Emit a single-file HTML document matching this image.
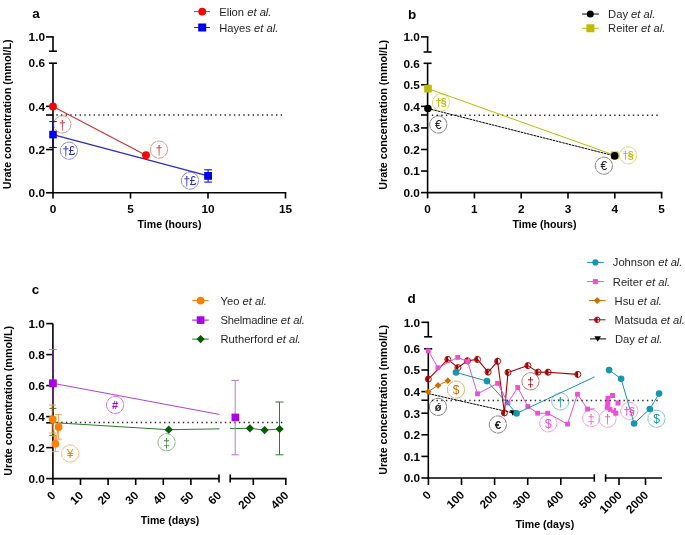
<!DOCTYPE html>
<html><head><meta charset="utf-8"><style>
html,body{margin:0;padding:0;background:#fff;}
body{width:685px;height:535px;overflow:hidden;}
svg{display:block;font-family:"Liberation Sans", sans-serif;filter:blur(0.3px);}
</style></head><body>
<svg width="685" height="535" viewBox="0 0 685 535">
<rect width="685" height="535" fill="#fff"/>
<text x="36.00" y="17.50" font-size="13.5" font-weight="bold" text-anchor="middle" fill="#000" >a</text>
<line x1="53.00" y1="36.90" x2="53.00" y2="51.20" stroke="#000" stroke-width="1.6" />
<line x1="46.00" y1="36.90" x2="53.80" y2="36.90" stroke="#000" stroke-width="1.6" />
<line x1="49.00" y1="51.20" x2="57.00" y2="51.20" stroke="#000" stroke-width="1.6" />
<line x1="49.00" y1="63.20" x2="57.00" y2="63.20" stroke="#000" stroke-width="1.6" />
<line x1="53.00" y1="63.20" x2="53.00" y2="192.75" stroke="#000" stroke-width="1.6" />
<line x1="46.00" y1="106.35" x2="53.00" y2="106.35" stroke="#000" stroke-width="1.6" />
<line x1="46.00" y1="149.55" x2="53.00" y2="149.55" stroke="#000" stroke-width="1.6" />
<line x1="46.00" y1="192.75" x2="53.00" y2="192.75" stroke="#000" stroke-width="1.6" />
<line x1="46.00" y1="114.99" x2="53.00" y2="114.99" stroke="#000" stroke-width="1.6" />
<text x="45.00" y="41.20" font-size="11.8" font-weight="bold" text-anchor="end" fill="#000" >1.0</text>
<text x="45.00" y="67.45" font-size="11.8" font-weight="bold" text-anchor="end" fill="#000" >0.6</text>
<text x="45.00" y="110.65" font-size="11.8" font-weight="bold" text-anchor="end" fill="#000" >0.4</text>
<text x="45.00" y="153.85" font-size="11.8" font-weight="bold" text-anchor="end" fill="#000" >0.2</text>
<text x="45.00" y="197.05" font-size="11.8" font-weight="bold" text-anchor="end" fill="#000" >0.0</text>
<line x1="52.20" y1="192.75" x2="286.30" y2="192.75" stroke="#000" stroke-width="1.6" />
<line x1="53.00" y1="192.75" x2="53.00" y2="198.50" stroke="#000" stroke-width="1.6" />
<text x="53.00" y="212.90" font-size="11.8" font-weight="bold" text-anchor="middle" fill="#000" >0</text>
<line x1="130.50" y1="192.75" x2="130.50" y2="198.50" stroke="#000" stroke-width="1.6" />
<text x="130.50" y="212.90" font-size="11.8" font-weight="bold" text-anchor="middle" fill="#000" >5</text>
<line x1="208.00" y1="192.75" x2="208.00" y2="198.50" stroke="#000" stroke-width="1.6" />
<text x="208.00" y="212.90" font-size="11.8" font-weight="bold" text-anchor="middle" fill="#000" >10</text>
<line x1="285.50" y1="192.75" x2="285.50" y2="198.50" stroke="#000" stroke-width="1.6" />
<text x="285.50" y="212.90" font-size="11.8" font-weight="bold" text-anchor="middle" fill="#000" >15</text>
<text x="169.50" y="227.80" font-size="10.6" font-weight="bold" text-anchor="middle" fill="#000" >Time (hours)</text>
<text transform="translate(11.20,114.40) rotate(-90)" x="0" y="0" font-size="10.75" font-weight="bold" text-anchor="middle" fill="#000">Urate concentration (mmol/L)</text>
<line x1="56.25" y1="114.95" x2="282.15" y2="114.95" stroke="#2a2a2a" stroke-width="1.5" stroke-dasharray="1.4,3.275"/>
<polyline points="53.00,106.40 146.00,155.20" fill="none" stroke="#cc3030" stroke-width="1.1" stroke-linejoin="round" />
<polyline points="53.00,134.60 208.10,175.90" fill="none" stroke="#2a2ac4" stroke-width="1.1" stroke-linejoin="round" />
<line x1="53.00" y1="121.60" x2="53.00" y2="147.50" stroke="#10107a" stroke-width="1.6" />
<line x1="49.25" y1="121.60" x2="56.75" y2="121.60" stroke="#0000f0" stroke-width="1.0" />
<line x1="49.25" y1="147.50" x2="56.75" y2="147.50" stroke="#0000f0" stroke-width="1.0" />
<line x1="208.10" y1="169.80" x2="208.10" y2="182.10" stroke="#0000f0" stroke-width="1.0" />
<line x1="204.10" y1="169.80" x2="212.10" y2="169.80" stroke="#0000f0" stroke-width="1.0" />
<line x1="204.10" y1="182.10" x2="212.10" y2="182.10" stroke="#0000f0" stroke-width="1.0" />
<rect x="49.20" y="130.80" width="7.6" height="7.6" fill="#0000f0"/>
<rect x="204.20" y="172.00" width="7.8" height="7.8" fill="#0000f0"/>
<circle cx="53.00" cy="106.40" r="3.9" fill="#ff0000"/>
<circle cx="146.00" cy="155.20" r="3.9" fill="#ff0000"/>
<circle cx="62.30" cy="124.40" r="8.6" fill="none" stroke="#cc3030" stroke-width="0.9" stroke-dasharray="7,0.6" opacity="0.62"/>
<text x="62.30" y="128.70" font-size="12" font-weight="normal" text-anchor="middle" fill="#cc3030" >†</text>
<circle cx="159.00" cy="149.60" r="8.6" fill="none" stroke="#cc3030" stroke-width="0.9" stroke-dasharray="7,0.6" opacity="0.62"/>
<text x="159.00" y="153.90" font-size="12" font-weight="normal" text-anchor="middle" fill="#cc3030" >†</text>
<circle cx="68.90" cy="150.70" r="8.6" fill="none" stroke="#2a2ac4" stroke-width="0.9" stroke-dasharray="7,0.6" opacity="0.62"/>
<text x="68.60" y="155.00" font-size="12" font-weight="normal" text-anchor="middle" fill="#2a2ac4"  letter-spacing="-0.6">†£</text>
<circle cx="190.00" cy="180.60" r="8.6" fill="none" stroke="#2a2ac4" stroke-width="0.9" stroke-dasharray="7,0.6" opacity="0.62"/>
<text x="189.70" y="184.90" font-size="12" font-weight="normal" text-anchor="middle" fill="#2a2ac4"  letter-spacing="-0.6">†£</text>
<line x1="194.00" y1="11.60" x2="210.00" y2="11.60" stroke="#cc3030" stroke-width="1.0" />
<circle cx="202.20" cy="11.60" r="3.9" fill="#ff0000"/>
<text x="219.20" y="15.70" font-size="11.2" fill="#262626">Elion <tspan font-style="italic">et al.</tspan></text>
<line x1="194.00" y1="27.50" x2="210.00" y2="27.50" stroke="#2a2ac4" stroke-width="1.0" />
<rect x="198.20" y="23.50" width="8" height="8" fill="#0000f0"/>
<text x="219.20" y="31.80" font-size="11.2" fill="#262626">Hayes <tspan font-style="italic">et al.</tspan></text>
<text x="412.00" y="18.90" font-size="13.5" font-weight="bold" text-anchor="middle" fill="#000" >b</text>
<line x1="427.60" y1="36.90" x2="427.60" y2="52.00" stroke="#000" stroke-width="1.6" />
<line x1="421.00" y1="36.90" x2="428.40" y2="36.90" stroke="#000" stroke-width="1.6" />
<line x1="423.60" y1="52.00" x2="431.60" y2="52.00" stroke="#000" stroke-width="1.6" />
<line x1="423.60" y1="63.30" x2="431.60" y2="63.30" stroke="#000" stroke-width="1.6" />
<line x1="427.60" y1="63.30" x2="427.60" y2="192.60" stroke="#000" stroke-width="1.6" />
<line x1="421.00" y1="84.80" x2="427.60" y2="84.80" stroke="#000" stroke-width="1.6" />
<line x1="421.00" y1="106.36" x2="427.60" y2="106.36" stroke="#000" stroke-width="1.6" />
<line x1="421.00" y1="114.98" x2="427.60" y2="114.98" stroke="#000" stroke-width="1.6" />
<line x1="421.00" y1="127.92" x2="427.60" y2="127.92" stroke="#000" stroke-width="1.6" />
<line x1="421.00" y1="149.48" x2="427.60" y2="149.48" stroke="#000" stroke-width="1.6" />
<line x1="421.00" y1="171.04" x2="427.60" y2="171.04" stroke="#000" stroke-width="1.6" />
<line x1="421.00" y1="192.60" x2="427.60" y2="192.60" stroke="#000" stroke-width="1.6" />
<text x="419.90" y="41.20" font-size="11.8" font-weight="bold" text-anchor="end" fill="#000" >1.0</text>
<text x="419.90" y="67.54" font-size="11.8" font-weight="bold" text-anchor="end" fill="#000" >0.6</text>
<text x="419.90" y="89.10" font-size="11.8" font-weight="bold" text-anchor="end" fill="#000" >0.5</text>
<text x="419.90" y="110.66" font-size="11.8" font-weight="bold" text-anchor="end" fill="#000" >0.4</text>
<text x="419.90" y="132.22" font-size="11.8" font-weight="bold" text-anchor="end" fill="#000" >0.3</text>
<text x="419.90" y="153.78" font-size="11.8" font-weight="bold" text-anchor="end" fill="#000" >0.2</text>
<text x="419.90" y="175.34" font-size="11.8" font-weight="bold" text-anchor="end" fill="#000" >0.1</text>
<text x="419.90" y="196.90" font-size="11.8" font-weight="bold" text-anchor="end" fill="#000" >0.0</text>
<line x1="426.80" y1="192.60" x2="662.40" y2="192.60" stroke="#000" stroke-width="1.6" />
<line x1="427.60" y1="192.60" x2="427.60" y2="198.40" stroke="#000" stroke-width="1.6" />
<text x="427.60" y="212.90" font-size="11.8" font-weight="bold" text-anchor="middle" fill="#000" >0</text>
<line x1="474.40" y1="192.60" x2="474.40" y2="198.40" stroke="#000" stroke-width="1.6" />
<text x="474.40" y="212.90" font-size="11.8" font-weight="bold" text-anchor="middle" fill="#000" >1</text>
<line x1="521.20" y1="192.60" x2="521.20" y2="198.40" stroke="#000" stroke-width="1.6" />
<text x="521.20" y="212.90" font-size="11.8" font-weight="bold" text-anchor="middle" fill="#000" >2</text>
<line x1="568.00" y1="192.60" x2="568.00" y2="198.40" stroke="#000" stroke-width="1.6" />
<text x="568.00" y="212.90" font-size="11.8" font-weight="bold" text-anchor="middle" fill="#000" >3</text>
<line x1="614.80" y1="192.60" x2="614.80" y2="198.40" stroke="#000" stroke-width="1.6" />
<text x="614.80" y="212.90" font-size="11.8" font-weight="bold" text-anchor="middle" fill="#000" >4</text>
<line x1="661.60" y1="192.60" x2="661.60" y2="198.40" stroke="#000" stroke-width="1.6" />
<text x="661.60" y="212.90" font-size="11.8" font-weight="bold" text-anchor="middle" fill="#000" >5</text>
<text x="544.50" y="228.40" font-size="10.6" font-weight="bold" text-anchor="middle" fill="#000" >Time (hours)</text>
<text transform="translate(386.90,114.80) rotate(-90)" x="0" y="0" font-size="10.75" font-weight="bold" text-anchor="middle" fill="#000">Urate concentration (mmol/L)</text>
<line x1="431.85" y1="115.20" x2="657.75" y2="115.20" stroke="#2a2a2a" stroke-width="1.5" stroke-dasharray="1.4,3.275"/>
<polyline points="427.90,108.50 614.70,155.90" fill="none" stroke="#000" stroke-width="1.0" stroke-linejoin="round" stroke-dasharray="2.6,0.7"/>
<polyline points="428.00,88.60 614.70,155.30" fill="none" stroke="#bcbc00" stroke-width="1.0" stroke-linejoin="round" />
<rect x="424.15" y="84.75" width="7.7" height="7.7" fill="#bcbc00"/>
<rect x="610.85" y="151.45" width="7.7" height="7.7" fill="#bcbc00"/>
<circle cx="427.90" cy="108.50" r="3.8" fill="#000"/>
<circle cx="614.70" cy="155.90" r="3.8" fill="#000"/>
<circle cx="441.00" cy="102.50" r="8.6" fill="none" stroke="#bcbc00" stroke-width="0.9" stroke-dasharray="7,0.6" opacity="0.62"/>
<text x="440.70" y="106.10" font-size="10.6" font-weight="bold" text-anchor="middle" fill="#bcbc00"  letter-spacing="-0.6">†§</text>
<circle cx="628.10" cy="155.40" r="8.6" fill="none" stroke="#bcbc00" stroke-width="0.9" stroke-dasharray="7,0.6" opacity="0.62"/>
<text x="627.80" y="159.00" font-size="10.6" font-weight="bold" text-anchor="middle" fill="#bcbc00"  letter-spacing="-0.6">†§</text>
<circle cx="438.30" cy="124.50" r="8.6" fill="none" stroke="#222" stroke-width="0.9" stroke-dasharray="7,0.6" opacity="0.62"/>
<text x="438.30" y="128.80" font-size="12" font-weight="normal" text-anchor="middle" fill="#222" >€</text>
<circle cx="603.90" cy="165.70" r="8.6" fill="none" stroke="#222" stroke-width="0.9" stroke-dasharray="7,0.6" opacity="0.62"/>
<text x="603.90" y="170.00" font-size="12" font-weight="normal" text-anchor="middle" fill="#222" >€</text>
<line x1="582.10" y1="14.05" x2="598.80" y2="14.05" stroke="#000" stroke-width="1.0" />
<circle cx="590.30" cy="14.05" r="3.5" fill="#000"/>
<text x="608.10" y="17.95" font-size="11.2" fill="#262626">Day <tspan font-style="italic">et al.</tspan></text>
<line x1="582.10" y1="28.25" x2="598.80" y2="28.25" stroke="#bcbc00" stroke-width="1.0" />
<rect x="586.40" y="24.25" width="8" height="8" fill="#bcbc00"/>
<text x="608.10" y="31.85" font-size="11.2" fill="#262626">Reiter <tspan font-style="italic">et al.</tspan></text>
<text x="35.60" y="293.70" font-size="13.5" font-weight="bold" text-anchor="middle" fill="#000" >c</text>
<line x1="52.90" y1="323.60" x2="52.90" y2="478.60" stroke="#000" stroke-width="1.6" />
<line x1="46.20" y1="323.60" x2="52.90" y2="323.60" stroke="#000" stroke-width="1.6" />
<line x1="46.20" y1="354.60" x2="52.90" y2="354.60" stroke="#000" stroke-width="1.6" />
<line x1="46.20" y1="385.60" x2="52.90" y2="385.60" stroke="#000" stroke-width="1.6" />
<line x1="46.20" y1="416.60" x2="52.90" y2="416.60" stroke="#000" stroke-width="1.6" />
<line x1="46.20" y1="422.80" x2="52.90" y2="422.80" stroke="#000" stroke-width="1.6" />
<line x1="46.20" y1="447.60" x2="52.90" y2="447.60" stroke="#000" stroke-width="1.6" />
<line x1="46.20" y1="478.60" x2="52.90" y2="478.60" stroke="#000" stroke-width="1.6" />
<text x="44.90" y="327.90" font-size="11.8" font-weight="bold" text-anchor="end" fill="#000" >1.0</text>
<text x="44.90" y="358.90" font-size="11.8" font-weight="bold" text-anchor="end" fill="#000" >0.8</text>
<text x="44.90" y="389.90" font-size="11.8" font-weight="bold" text-anchor="end" fill="#000" >0.6</text>
<text x="44.90" y="420.90" font-size="11.8" font-weight="bold" text-anchor="end" fill="#000" >0.4</text>
<text x="44.90" y="451.90" font-size="11.8" font-weight="bold" text-anchor="end" fill="#000" >0.2</text>
<text x="44.90" y="482.90" font-size="11.8" font-weight="bold" text-anchor="end" fill="#000" >0.0</text>
<line x1="52.10" y1="478.60" x2="219.00" y2="478.60" stroke="#000" stroke-width="1.6" />
<line x1="219.00" y1="474.60" x2="219.00" y2="482.40" stroke="#000" stroke-width="1.6" />
<line x1="230.20" y1="478.60" x2="286.60" y2="478.60" stroke="#000" stroke-width="1.6" />
<line x1="230.20" y1="474.60" x2="230.20" y2="482.40" stroke="#000" stroke-width="1.6" />
<line x1="52.90" y1="478.60" x2="52.90" y2="485.00" stroke="#000" stroke-width="1.6" />
<line x1="80.50" y1="478.60" x2="80.50" y2="485.00" stroke="#000" stroke-width="1.6" />
<line x1="108.10" y1="478.60" x2="108.10" y2="485.00" stroke="#000" stroke-width="1.6" />
<line x1="135.70" y1="478.60" x2="135.70" y2="485.00" stroke="#000" stroke-width="1.6" />
<line x1="163.30" y1="478.60" x2="163.30" y2="485.00" stroke="#000" stroke-width="1.6" />
<line x1="190.90" y1="478.60" x2="190.90" y2="485.00" stroke="#000" stroke-width="1.6" />
<line x1="253.30" y1="478.60" x2="253.30" y2="485.00" stroke="#000" stroke-width="1.6" />
<line x1="285.80" y1="478.60" x2="285.80" y2="485.00" stroke="#000" stroke-width="1.6" />
<text transform="translate(56.40,496.10) rotate(-45)" x="0" y="0" font-size="11.6" font-weight="bold" text-anchor="end" fill="#000">0</text>
<text transform="translate(84.00,496.10) rotate(-45)" x="0" y="0" font-size="11.6" font-weight="bold" text-anchor="end" fill="#000">10</text>
<text transform="translate(111.60,496.10) rotate(-45)" x="0" y="0" font-size="11.6" font-weight="bold" text-anchor="end" fill="#000">20</text>
<text transform="translate(139.20,496.10) rotate(-45)" x="0" y="0" font-size="11.6" font-weight="bold" text-anchor="end" fill="#000">30</text>
<text transform="translate(166.80,496.10) rotate(-45)" x="0" y="0" font-size="11.6" font-weight="bold" text-anchor="end" fill="#000">40</text>
<text transform="translate(194.40,496.10) rotate(-45)" x="0" y="0" font-size="11.6" font-weight="bold" text-anchor="end" fill="#000">50</text>
<text transform="translate(222.00,496.10) rotate(-45)" x="0" y="0" font-size="11.6" font-weight="bold" text-anchor="end" fill="#000">60</text>
<text transform="translate(256.80,496.10) rotate(-45)" x="0" y="0" font-size="11.6" font-weight="bold" text-anchor="end" fill="#000">200</text>
<text transform="translate(289.30,496.10) rotate(-45)" x="0" y="0" font-size="11.6" font-weight="bold" text-anchor="end" fill="#000">400</text>
<text x="170.00" y="524.00" font-size="10.6" font-weight="bold" text-anchor="middle" fill="#000" >Time (days)</text>
<text transform="translate(11.70,400.80) rotate(-90)" x="0" y="0" font-size="10.75" font-weight="bold" text-anchor="middle" fill="#000">Urate concentration (mmol/L)</text>
<line x1="56.55" y1="422.60" x2="282.45" y2="422.60" stroke="#2a2a2a" stroke-width="1.5" stroke-dasharray="1.4,3.275"/>
<clipPath id="c1"><rect x="0" y="300" width="219.5" height="200"/></clipPath>
<clipPath id="c2"><rect x="230" y="300" width="100" height="200"/></clipPath>
<polyline points="52.90,383.30 235.30,417.40" fill="none" stroke="#b040e0" stroke-width="1.0" stroke-linejoin="round" clip-path="url(#c1)"/>
<polyline points="52.90,422.60 168.70,429.70 249.90,428.30" fill="none" stroke="#2e7a2e" stroke-width="1.0" stroke-linejoin="round" clip-path="url(#c1)"/>
<polyline points="168.70,429.70 249.90,428.30 264.60,430.10 279.60,429.00" fill="none" stroke="#2e7a2e" stroke-width="1.0" stroke-linejoin="round" clip-path="url(#c2)"/>
<line x1="52.90" y1="349.50" x2="52.90" y2="417.00" stroke="#5e2a70" stroke-width="1.6" />
<line x1="49.15" y1="349.50" x2="56.65" y2="349.50" stroke="#b478d2" stroke-width="1.0" />
<line x1="49.15" y1="417.00" x2="56.65" y2="417.00" stroke="#b478d2" stroke-width="1.0" />
<line x1="235.20" y1="380.40" x2="235.20" y2="454.80" stroke="#b478d2" stroke-width="1.0" />
<line x1="231.45" y1="380.40" x2="238.95" y2="380.40" stroke="#b478d2" stroke-width="1.0" />
<line x1="231.45" y1="454.80" x2="238.95" y2="454.80" stroke="#b478d2" stroke-width="1.0" />
<line x1="279.50" y1="402.00" x2="279.50" y2="454.80" stroke="#2e7a2e" stroke-width="1.0" />
<line x1="275.50" y1="402.00" x2="283.50" y2="402.00" stroke="#2e7a2e" stroke-width="1.0" />
<line x1="275.50" y1="454.80" x2="283.50" y2="454.80" stroke="#2e7a2e" stroke-width="1.0" />
<line x1="52.90" y1="408.40" x2="52.90" y2="435.30" stroke="#1e3a1e" stroke-width="1.6" />
<line x1="49.40" y1="408.40" x2="56.40" y2="408.40" stroke="#2e7a2e" stroke-width="1.0" />
<line x1="49.40" y1="435.30" x2="56.40" y2="435.30" stroke="#2e7a2e" stroke-width="1.0" />
<line x1="52.60" y1="405.00" x2="52.60" y2="433.00" stroke="#8a4a14" stroke-width="1.6" />
<line x1="49.10" y1="405.00" x2="56.10" y2="405.00" stroke="#f2a455" stroke-width="1.0" />
<line x1="49.10" y1="433.00" x2="56.10" y2="433.00" stroke="#f2a455" stroke-width="1.0" />
<line x1="58.60" y1="414.60" x2="58.60" y2="439.20" stroke="#f2a455" stroke-width="1.0" />
<line x1="55.25" y1="414.60" x2="61.95" y2="414.60" stroke="#f2a455" stroke-width="1.0" />
<line x1="55.25" y1="439.20" x2="61.95" y2="439.20" stroke="#f2a455" stroke-width="1.0" />
<line x1="55.40" y1="436.00" x2="55.40" y2="451.70" stroke="#f2a455" stroke-width="1.0" />
<line x1="52.10" y1="436.00" x2="58.70" y2="436.00" stroke="#f2a455" stroke-width="1.0" />
<line x1="52.10" y1="451.70" x2="58.70" y2="451.70" stroke="#f2a455" stroke-width="1.0" />
<rect x="49.00" y="379.40" width="7.8" height="7.8" fill="#aa00e6"/>
<rect x="231.50" y="413.60" width="7.6" height="7.6" fill="#aa00e6"/>
<polygon points="168.70,425.60 172.80,429.70 168.70,433.80 164.60,429.70" fill="#005f00"/>
<polygon points="249.90,424.20 254.00,428.30 249.90,432.40 245.80,428.30" fill="#005f00"/>
<polygon points="264.60,426.00 268.70,430.10 264.60,434.20 260.50,430.10" fill="#005f00"/>
<polygon points="279.60,424.90 283.70,429.00 279.60,433.10 275.50,429.00" fill="#005f00"/>
<polyline points="52.60,419.30 55.40,443.70 58.60,426.90" fill="none" stroke="#f59a40" stroke-width="1.0" stroke-linejoin="round" />
<circle cx="52.60" cy="419.30" r="3.9" fill="#ff8000"/>
<circle cx="58.60" cy="426.90" r="3.9" fill="#ff8000"/>
<circle cx="55.40" cy="443.70" r="3.9" fill="#ff8000"/>
<circle cx="115.10" cy="404.90" r="8.6" fill="none" stroke="#aa00e6" stroke-width="0.9" stroke-dasharray="7,0.6" opacity="0.62"/>
<text x="115.10" y="408.90" font-size="10.8" font-weight="bold" text-anchor="middle" fill="#aa00e6" >#</text>
<circle cx="166.60" cy="442.30" r="8.6" fill="none" stroke="#2e7a2e" stroke-width="0.9" stroke-dasharray="7,0.6" opacity="0.62"/>
<text x="166.60" y="446.60" font-size="12" font-weight="normal" text-anchor="middle" fill="#2e7a2e" >‡</text>
<circle cx="70.10" cy="453.50" r="8.6" fill="none" stroke="#ff8000" stroke-width="0.9" stroke-dasharray="7,0.6" opacity="0.62"/>
<text x="70.10" y="457.80" font-size="12" font-weight="normal" text-anchor="middle" fill="#ff8000" >¥</text>
<line x1="192.20" y1="300.60" x2="208.70" y2="300.60" stroke="#ff8000" stroke-width="1.0" />
<circle cx="200.60" cy="300.60" r="3.9" fill="#ff8000"/>
<text x="220.50" y="304.50" font-size="11.2" fill="#262626">Yeo <tspan font-style="italic">et al.</tspan></text>
<line x1="192.20" y1="320.10" x2="208.70" y2="320.10" stroke="#aa00e6" stroke-width="1.0" />
<rect x="196.80" y="316.30" width="7.6" height="7.6" fill="#aa00e6"/>
<text x="220.50" y="324.00" font-size="11.2" fill="#262626"><tspan letter-spacing="-0.2">Shelmadine</tspan> <tspan font-style="italic">et al.</tspan></text>
<line x1="192.20" y1="339.10" x2="208.70" y2="339.10" stroke="#2e7a2e" stroke-width="1.0" />
<polygon points="200.60,335.00 204.70,339.10 200.60,343.20 196.50,339.10" fill="#005f00"/>
<text x="220.50" y="343.00" font-size="11.2" fill="#262626">Rutherford <tspan font-style="italic">et al.</tspan></text>
<text x="411.50" y="303.30" font-size="13.5" font-weight="bold" text-anchor="middle" fill="#000" >d</text>
<line x1="428.30" y1="322.30" x2="428.30" y2="336.80" stroke="#000" stroke-width="1.6" />
<line x1="421.40" y1="322.30" x2="429.10" y2="322.30" stroke="#000" stroke-width="1.6" />
<line x1="424.10" y1="336.80" x2="432.20" y2="336.80" stroke="#000" stroke-width="1.6" />
<line x1="424.10" y1="348.80" x2="432.20" y2="348.80" stroke="#000" stroke-width="1.6" />
<line x1="428.30" y1="348.80" x2="428.30" y2="478.00" stroke="#000" stroke-width="1.6" />
<line x1="421.40" y1="370.00" x2="428.30" y2="370.00" stroke="#000" stroke-width="1.6" />
<line x1="421.40" y1="391.60" x2="428.30" y2="391.60" stroke="#000" stroke-width="1.6" />
<line x1="421.40" y1="400.24" x2="428.30" y2="400.24" stroke="#000" stroke-width="1.6" />
<line x1="421.40" y1="413.20" x2="428.30" y2="413.20" stroke="#000" stroke-width="1.6" />
<line x1="421.40" y1="434.80" x2="428.30" y2="434.80" stroke="#000" stroke-width="1.6" />
<line x1="421.40" y1="456.40" x2="428.30" y2="456.40" stroke="#000" stroke-width="1.6" />
<line x1="421.40" y1="478.00" x2="428.30" y2="478.00" stroke="#000" stroke-width="1.6" />
<text x="420.20" y="326.60" font-size="11.8" font-weight="bold" text-anchor="end" fill="#000" >1.0</text>
<text x="420.20" y="353.10" font-size="11.8" font-weight="bold" text-anchor="end" fill="#000" >0.6</text>
<text x="420.20" y="374.30" font-size="11.8" font-weight="bold" text-anchor="end" fill="#000" >0.5</text>
<text x="420.20" y="395.90" font-size="11.8" font-weight="bold" text-anchor="end" fill="#000" >0.4</text>
<text x="420.20" y="417.50" font-size="11.8" font-weight="bold" text-anchor="end" fill="#000" >0.3</text>
<text x="420.20" y="439.10" font-size="11.8" font-weight="bold" text-anchor="end" fill="#000" >0.2</text>
<text x="420.20" y="460.70" font-size="11.8" font-weight="bold" text-anchor="end" fill="#000" >0.1</text>
<text x="420.20" y="482.30" font-size="11.8" font-weight="bold" text-anchor="end" fill="#000" >0.0</text>
<line x1="427.50" y1="478.00" x2="594.30" y2="478.00" stroke="#000" stroke-width="1.6" />
<line x1="594.30" y1="474.30" x2="594.30" y2="481.70" stroke="#000" stroke-width="1.6" />
<line x1="605.60" y1="478.00" x2="662.00" y2="478.00" stroke="#000" stroke-width="1.6" />
<line x1="605.60" y1="474.30" x2="605.60" y2="481.70" stroke="#000" stroke-width="1.6" />
<line x1="428.40" y1="478.00" x2="428.40" y2="485.00" stroke="#000" stroke-width="1.6" />
<line x1="461.50" y1="478.00" x2="461.50" y2="485.00" stroke="#000" stroke-width="1.6" />
<line x1="494.60" y1="478.00" x2="494.60" y2="485.00" stroke="#000" stroke-width="1.6" />
<line x1="527.70" y1="478.00" x2="527.70" y2="485.00" stroke="#000" stroke-width="1.6" />
<line x1="560.80" y1="478.00" x2="560.80" y2="485.00" stroke="#000" stroke-width="1.6" />
<line x1="619.00" y1="478.00" x2="619.00" y2="485.00" stroke="#000" stroke-width="1.6" />
<line x1="645.50" y1="478.00" x2="645.50" y2="485.00" stroke="#000" stroke-width="1.6" />
<text transform="translate(431.90,495.60) rotate(-45)" x="0" y="0" font-size="11.6" font-weight="bold" text-anchor="end" fill="#000">0</text>
<text transform="translate(465.00,495.60) rotate(-45)" x="0" y="0" font-size="11.6" font-weight="bold" text-anchor="end" fill="#000">100</text>
<text transform="translate(498.10,495.60) rotate(-45)" x="0" y="0" font-size="11.6" font-weight="bold" text-anchor="end" fill="#000">200</text>
<text transform="translate(531.20,495.60) rotate(-45)" x="0" y="0" font-size="11.6" font-weight="bold" text-anchor="end" fill="#000">300</text>
<text transform="translate(564.30,495.60) rotate(-45)" x="0" y="0" font-size="11.6" font-weight="bold" text-anchor="end" fill="#000">400</text>
<text transform="translate(597.40,495.60) rotate(-45)" x="0" y="0" font-size="11.6" font-weight="bold" text-anchor="end" fill="#000">500</text>
<text transform="translate(622.50,495.90) rotate(-45)" x="0" y="0" font-size="11.6" font-weight="bold" text-anchor="end" fill="#000">1000</text>
<text transform="translate(649.00,495.90) rotate(-45)" x="0" y="0" font-size="11.6" font-weight="bold" text-anchor="end" fill="#000">2000</text>
<text x="544.90" y="528.40" font-size="10.6" font-weight="bold" text-anchor="middle" fill="#000" >Time (days)</text>
<text transform="translate(387.40,399.90) rotate(-90)" x="0" y="0" font-size="10.75" font-weight="bold" text-anchor="middle" fill="#000">Urate concentration (mmol/L)</text>
<clipPath id="d1"><rect x="420" y="300" width="174.6" height="200"/></clipPath>
<clipPath id="d2"><rect x="605.4" y="300" width="80" height="200"/></clipPath>
<polyline points="428.30,393.60 512.90,412.90" fill="none" stroke="#000" stroke-width="1.0" stroke-linejoin="round" stroke-dasharray="2.6,0.7"/>
<polygon points="509.60,410.26 516.20,410.26 512.90,415.87" fill="#000"/>
<polyline points="428.30,379.10 447.80,359.40 457.90,367.60 467.50,360.80 477.50,359.40 488.10,372.10 497.60,361.30 504.40,412.90 508.00,372.40 527.90,365.60 538.00,372.10 548.10,372.20 577.80,374.40" fill="none" stroke="#a50000" stroke-width="1.1" stroke-linejoin="round" />
<circle cx="428.30" cy="379.10" r="3.05" fill="none" stroke="#a50000" stroke-width="0.9"/>
<path d="M428.70,375.65 A3.5,3.5 0 0 0 428.70,382.55 Z" fill="#a50000"/>
<circle cx="447.80" cy="359.40" r="3.05" fill="none" stroke="#a50000" stroke-width="0.9"/>
<path d="M448.20,355.95 A3.5,3.5 0 0 0 448.20,362.85 Z" fill="#a50000"/>
<circle cx="457.90" cy="367.60" r="3.05" fill="none" stroke="#a50000" stroke-width="0.9"/>
<path d="M458.30,364.15 A3.5,3.5 0 0 0 458.30,371.05 Z" fill="#a50000"/>
<circle cx="467.50" cy="360.80" r="3.05" fill="none" stroke="#a50000" stroke-width="0.9"/>
<path d="M467.90,357.35 A3.5,3.5 0 0 0 467.90,364.25 Z" fill="#a50000"/>
<circle cx="477.50" cy="359.40" r="3.05" fill="none" stroke="#a50000" stroke-width="0.9"/>
<path d="M477.90,355.95 A3.5,3.5 0 0 0 477.90,362.85 Z" fill="#a50000"/>
<circle cx="488.10" cy="372.10" r="3.05" fill="none" stroke="#a50000" stroke-width="0.9"/>
<path d="M488.50,368.65 A3.5,3.5 0 0 0 488.50,375.55 Z" fill="#a50000"/>
<circle cx="497.60" cy="361.30" r="3.05" fill="none" stroke="#a50000" stroke-width="0.9"/>
<path d="M498.00,357.85 A3.5,3.5 0 0 0 498.00,364.75 Z" fill="#a50000"/>
<circle cx="504.40" cy="412.90" r="3.05" fill="none" stroke="#a50000" stroke-width="0.9"/>
<path d="M504.80,409.45 A3.5,3.5 0 0 0 504.80,416.35 Z" fill="#a50000"/>
<circle cx="508.00" cy="372.40" r="3.05" fill="none" stroke="#a50000" stroke-width="0.9"/>
<path d="M508.40,368.95 A3.5,3.5 0 0 0 508.40,375.85 Z" fill="#a50000"/>
<circle cx="527.90" cy="365.60" r="3.05" fill="none" stroke="#a50000" stroke-width="0.9"/>
<path d="M528.30,362.15 A3.5,3.5 0 0 0 528.30,369.05 Z" fill="#a50000"/>
<circle cx="538.00" cy="372.10" r="3.05" fill="none" stroke="#a50000" stroke-width="0.9"/>
<path d="M538.40,368.65 A3.5,3.5 0 0 0 538.40,375.55 Z" fill="#a50000"/>
<circle cx="548.10" cy="372.20" r="3.05" fill="none" stroke="#a50000" stroke-width="0.9"/>
<path d="M548.50,368.75 A3.5,3.5 0 0 0 548.50,375.65 Z" fill="#a50000"/>
<circle cx="577.80" cy="374.40" r="3.05" fill="none" stroke="#a50000" stroke-width="0.9"/>
<path d="M578.20,370.95 A3.5,3.5 0 0 0 578.20,377.85 Z" fill="#a50000"/>
<polyline points="428.20,350.80 437.90,367.70 457.70,357.40 467.60,361.60 477.50,393.80 497.60,383.30 507.90,402.90 517.70,387.50 527.80,406.40 537.60,413.20 547.70,413.20 567.50,424.10 577.50,394.20 587.60,409.10 612.00,408.00" fill="none" stroke="#ee4ed6" stroke-width="1.0" stroke-linejoin="round" clip-path="url(#d1)"/>
<rect x="425.80" y="348.40" width="4.8" height="4.8" fill="#ee4ed6"/>
<rect x="435.50" y="365.30" width="4.8" height="4.8" fill="#ee4ed6"/>
<rect x="455.30" y="355.00" width="4.8" height="4.8" fill="#ee4ed6"/>
<rect x="465.20" y="359.20" width="4.8" height="4.8" fill="#ee4ed6"/>
<rect x="475.10" y="391.40" width="4.8" height="4.8" fill="#ee4ed6"/>
<rect x="495.20" y="380.90" width="4.8" height="4.8" fill="#ee4ed6"/>
<rect x="505.50" y="400.50" width="4.8" height="4.8" fill="#ee4ed6"/>
<rect x="515.30" y="385.10" width="4.8" height="4.8" fill="#ee4ed6"/>
<rect x="525.40" y="404.00" width="4.8" height="4.8" fill="#ee4ed6"/>
<rect x="535.20" y="410.80" width="4.8" height="4.8" fill="#ee4ed6"/>
<rect x="545.30" y="410.80" width="4.8" height="4.8" fill="#ee4ed6"/>
<rect x="565.10" y="421.70" width="4.8" height="4.8" fill="#ee4ed6"/>
<rect x="575.10" y="391.80" width="4.8" height="4.8" fill="#ee4ed6"/>
<rect x="585.20" y="406.70" width="4.8" height="4.8" fill="#ee4ed6"/>
<rect x="604.80" y="404.80" width="5" height="5" fill="#ee4ed6"/>
<rect x="605.30" y="400.30" width="5" height="5" fill="#ee4ed6"/>
<rect x="605.50" y="396.00" width="5" height="5" fill="#ee4ed6"/>
<rect x="610.00" y="393.00" width="5" height="5" fill="#ee4ed6"/>
<rect x="611.00" y="407.80" width="5" height="5" fill="#ee4ed6"/>
<rect x="615.50" y="400.50" width="5" height="5" fill="#ee4ed6"/>
<rect x="613.30" y="410.70" width="5" height="5" fill="#ee4ed6"/>
<rect x="608.10" y="406.80" width="5" height="5" fill="#ee4ed6"/>
<polyline points="610.20,399.20 613.30,409.70 615.00,401.50" fill="none" stroke="#fff" stroke-width="0.8" stroke-linejoin="round" />
<polyline points="609.40,399.40 612.60,410.50" fill="none" stroke="#f7a6ea" stroke-width="0.5" stroke-linejoin="round" />
<polyline points="456.00,372.40 487.00,381.10 516.60,413.40 609.10,370.10" fill="none" stroke="#1496af" stroke-width="1.0" stroke-linejoin="round" clip-path="url(#d1)"/>
<polyline points="609.10,370.10 621.10,378.80 634.10,423.50 649.80,409.00 659.10,393.60" fill="none" stroke="#1496af" stroke-width="1.0" stroke-linejoin="round" />
<circle cx="456.00" cy="372.40" r="3.3" fill="#1496af"/>
<circle cx="487.00" cy="381.10" r="3.3" fill="#1496af"/>
<circle cx="516.60" cy="413.40" r="3.3" fill="#1496af"/>
<circle cx="609.10" cy="370.10" r="3.3" fill="#1496af"/>
<circle cx="621.10" cy="378.80" r="3.3" fill="#1496af"/>
<circle cx="634.10" cy="423.50" r="3.3" fill="#1496af"/>
<circle cx="649.80" cy="409.00" r="3.3" fill="#1496af"/>
<circle cx="659.10" cy="393.60" r="3.3" fill="#1496af"/>
<polyline points="428.10,391.70 438.00,385.40 447.80,380.80" fill="none" stroke="#cc6e00" stroke-width="1.0" stroke-linejoin="round" />
<polygon points="428.10,388.40 431.40,391.70 428.10,395.00 424.80,391.70" fill="#cc6e00"/>
<polygon points="438.00,382.10 441.30,385.40 438.00,388.70 434.70,385.40" fill="#cc6e00"/>
<polygon points="447.80,377.50 451.10,380.80 447.80,384.10 444.50,380.80" fill="#cc6e00"/>
<line x1="431.85" y1="400.40" x2="657.75" y2="400.40" stroke="#2a2a2a" stroke-width="1.5" stroke-dasharray="1.4,3.275"/>
<circle cx="456.00" cy="389.60" r="8.6" fill="none" stroke="#cc6e00" stroke-width="0.9" stroke-dasharray="7,0.6" opacity="0.62"/>
<text x="456.00" y="393.90" font-size="12" font-weight="normal" text-anchor="middle" fill="#cc6e00" >$</text>
<circle cx="438.00" cy="406.90" r="8.6" fill="none" stroke="#222" stroke-width="0.9" stroke-dasharray="7,0.6" opacity="0.62"/>
<text x="438.00" y="411.30" font-size="11" font-weight="bold" text-anchor="middle" fill="#222" >ǿ</text>
<circle cx="497.90" cy="424.50" r="8.6" fill="none" stroke="#222" stroke-width="0.9" stroke-dasharray="7,0.6" opacity="0.62"/>
<text x="497.90" y="428.80" font-size="11.5" font-weight="bold" text-anchor="middle" fill="#222" >€</text>
<circle cx="530.50" cy="381.30" r="8.6" fill="none" stroke="#a50000" stroke-width="0.9" stroke-dasharray="7,0.6" opacity="0.62"/>
<text x="530.50" y="385.60" font-size="12" font-weight="normal" text-anchor="middle" fill="#a50000" >‡</text>
<circle cx="560.30" cy="401.40" r="8.6" fill="none" stroke="#1496af" stroke-width="0.9" stroke-dasharray="7,0.6" opacity="0.62"/>
<text x="560.30" y="405.70" font-size="12" font-weight="normal" text-anchor="middle" fill="#1496af" >†</text>
<circle cx="548.30" cy="423.30" r="8.6" fill="none" stroke="#ee4ed6" stroke-width="0.9" stroke-dasharray="7,0.6" opacity="0.62"/>
<text x="548.30" y="427.60" font-size="12" font-weight="normal" text-anchor="middle" fill="#ee4ed6" >$</text>
<circle cx="591.20" cy="418.20" r="8.6" fill="none" stroke="#ee4ed6" stroke-width="0.9" stroke-dasharray="7,0.6" opacity="0.62"/>
<text x="591.20" y="422.50" font-size="12" font-weight="normal" text-anchor="middle" fill="#ee4ed6" >‡</text>
<circle cx="607.50" cy="418.80" r="8.6" fill="none" stroke="#ee4ed6" stroke-width="0.9" stroke-dasharray="7,0.6" opacity="0.62"/>
<text x="607.50" y="423.10" font-size="12" font-weight="normal" text-anchor="middle" fill="#ee4ed6" >†</text>
<circle cx="629.30" cy="410.90" r="8.6" fill="none" stroke="#ee4ed6" stroke-width="0.9" stroke-dasharray="7,0.6" opacity="0.62"/>
<text x="629.00" y="414.50" font-size="10.6" font-weight="bold" text-anchor="middle" fill="#ee4ed6"  letter-spacing="-0.6">†§</text>
<circle cx="656.50" cy="418.80" r="8.6" fill="none" stroke="#1496af" stroke-width="0.9" stroke-dasharray="7,0.6" opacity="0.62"/>
<text x="656.50" y="423.10" font-size="12" font-weight="normal" text-anchor="middle" fill="#1496af" >$</text>
<line x1="587.10" y1="262.40" x2="603.80" y2="262.40" stroke="#1496af" stroke-width="1.0" />
<circle cx="595.40" cy="262.40" r="3.1" fill="#1496af"/>
<text x="612.80" y="266.30" font-size="11.2" fill="#262626">Johnson <tspan font-style="italic">et al.</tspan></text>
<line x1="587.10" y1="281.60" x2="603.80" y2="281.60" stroke="#ee4ed6" stroke-width="1.0" />
<rect x="592.90" y="279.10" width="5" height="5" fill="#ee4ed6"/>
<text x="612.80" y="285.50" font-size="11.2" fill="#262626">Reiter <tspan font-style="italic">et al.</tspan></text>
<line x1="588.90" y1="300.60" x2="605.60" y2="300.60" stroke="#cc6e00" stroke-width="1.0" />
<polygon points="597.20,297.10 600.70,300.60 597.20,304.10 593.70,300.60" fill="#cc6e00"/>
<text x="614.60" y="304.50" font-size="11.2" fill="#262626">Hsu <tspan font-style="italic">et al.</tspan></text>
<line x1="588.90" y1="319.80" x2="605.60" y2="319.80" stroke="#a50000" stroke-width="1.0" />
<circle cx="597.20" cy="319.80" r="2.75" fill="none" stroke="#a50000" stroke-width="0.9"/>
<path d="M597.60,316.65 A3.2,3.2 0 0 0 597.60,322.95 Z" fill="#a50000"/>
<text x="614.60" y="323.70" font-size="11.2" fill="#262626">Matsuda <tspan font-style="italic">et al.</tspan></text>
<line x1="590.10" y1="338.90" x2="606.10" y2="338.90" stroke="#000" stroke-width="1.0" />
<polygon points="594.40,336.26 601.00,336.26 597.70,341.87" fill="#000"/>
<text x="615.00" y="342.80" font-size="11.2" fill="#262626">Day <tspan font-style="italic">et al.</tspan></text>
</svg></body></html>
